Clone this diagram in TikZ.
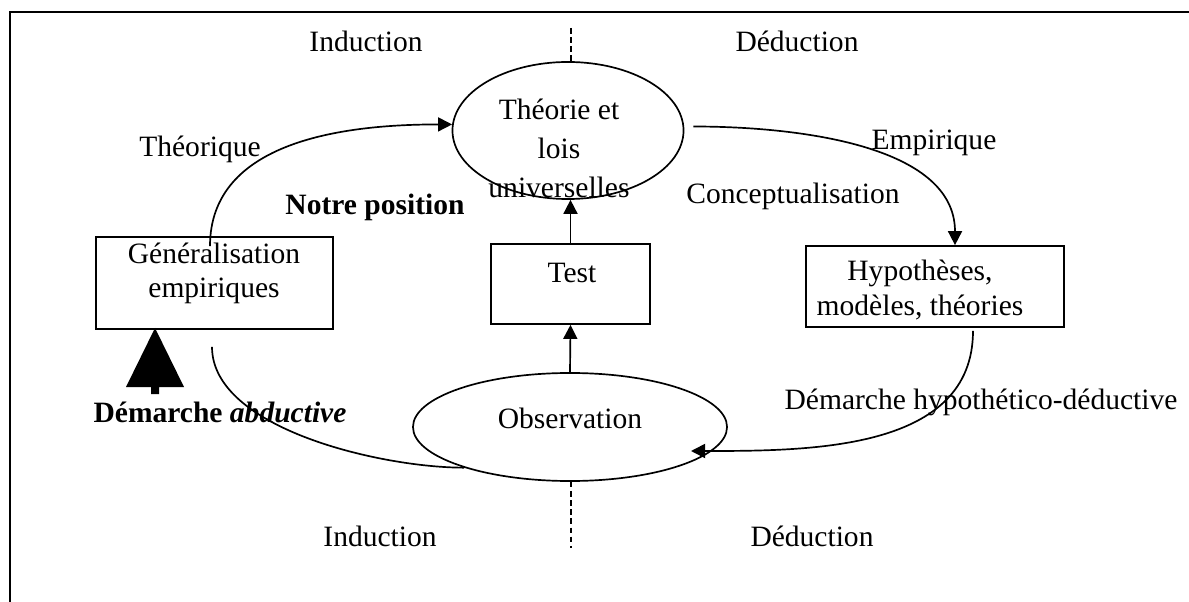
\documentclass[tikz,border=0pt]{standalone}
\usepackage{fontspec}
\setmainfont{Liberation Serif}
\usepackage{tikz}
\usetikzlibrary{arrows.meta,shapes,positioning,calc}
\tikzstyle{arrow} = [line width=1.2pt,-{Triangle[width=10pt,length=10pt]}]
\tikzstyle{link} = [line width=1.2pt]
\tikzstyle{box} = [draw, line width=1.2pt, rectangle, inner sep=0pt]
\tikzstyle{oval} = [draw, line width=1.2pt, ellipse, inner sep=0pt]
\tikzstyle{sep} = [line width=0.8pt, dash pattern=on 4pt off 2.5pt]
\tikzstyle{txt} = [inner sep=0pt, align=center, font=\fontsize{21}{24}\selectfont]

\begin{document}
\begin{tikzpicture}[x=0.025cm, y=-0.025cm]
\useasboundingbox (0,0) rectangle (1189,602);
% Frame, cut at the right and at the bottom
\draw[line width=1.4pt] (9.6,610) -- (9.6,12) -- (1195,12);

% Ellipses
\node[oval, minimum width=5.775cm, minimum height=3.425cm] (theory) at (568,130.5) {};
\node[txt, font=\fontsize{21}{27.5}\selectfont] (theorytxt) at (559,148.5) {Théorie et\\lois\\universelles};
\node[oval, minimum width=7.85cm, minimum height=2.7cm] (obs) at (570,427) {};
\node[txt] (obstxt) at (570,418) {Observation};

% Boxes
\node[box, minimum width=5.925cm, minimum height=2.3cm] (gen) at (214.5,283) {};
\node[txt] (gentxt) at (214,273.5) {Généralisation\\empiriques};
\node[box, minimum width=3.975cm, minimum height=2cm] (test) at (570.5,284) {};
\node[txt] (testtxt) at (572,272.5) {Test};
\node[box, minimum width=6.45cm, minimum height=2.025cm] (hyp) at (935,286.5) {};
\node[txt, font=\fontsize{21}{25}\selectfont] (hyptxt) at (920,290) {Hypothèses,\\modèles, théories};

% Labels
\node[txt] (indtop) at (366,41) {Induction};
\node[txt] (dedtop) at (797,41) {Déduction};
\node[txt] (theo) at (200,149) {Théorique};
\node[txt, font=\fontsize{21}{24}\selectfont\bfseries] (pos) at (375,207) {Notre position};
\node[txt] (emp) at (934,143) {Empirique};
\node[txt] (concept) at (793,196) {Conceptualisation};
\node[txt] (abd) at (220,412) {\textbf{Démarche \textit{abductive}}};
\node[txt] (hd) at (981,402) {Démarche hypothético-déductive};
\node[txt] (indbot) at (380,536) {Induction};
\node[txt] (dedbot) at (812,536) {Déduction};

% Dashed split
\coordinate (dtop) at (571,28);
\coordinate (dbot) at (571,548);
\draw[sep] (dtop) -- (dtop |- theory.north);
\draw[sep] (obs.south -| dbot) -- (dbot);

% Cycle
\draw[arrow] ($(gen.north)+(-4.5,10)$) to[out=90,in=180] (theory.177);
\draw[arrow] ($(theory.east)+(9,-4)$) to[out=0,in=90,looseness=0.9] ($(hyp.north)+(20,0)$);
\draw[arrow] ($(hyp.south)+(38,3)$) to[out=-90,in=0] ($(obs.center)+(121,24)$);
\draw[link] ($(gen.south)+(-2.5,17)$) to[out=-90,in=180,looseness=0.75] (obs.201);
\draw[arrow] (obs.north) -- (test.south);
\draw[arrow] (test.north) -- (test.north |- theory.south);

% Abductive arrow
\coordinate (abdtip) at (155,328);
\fill (abdtip) -- ++(29,59) -- ++(-25,0) -- ++(0,7) -- ++(-8,0) -- ++(0,-7) -- ++(-25,0) -- cycle;
\end{tikzpicture}
\end{document}
